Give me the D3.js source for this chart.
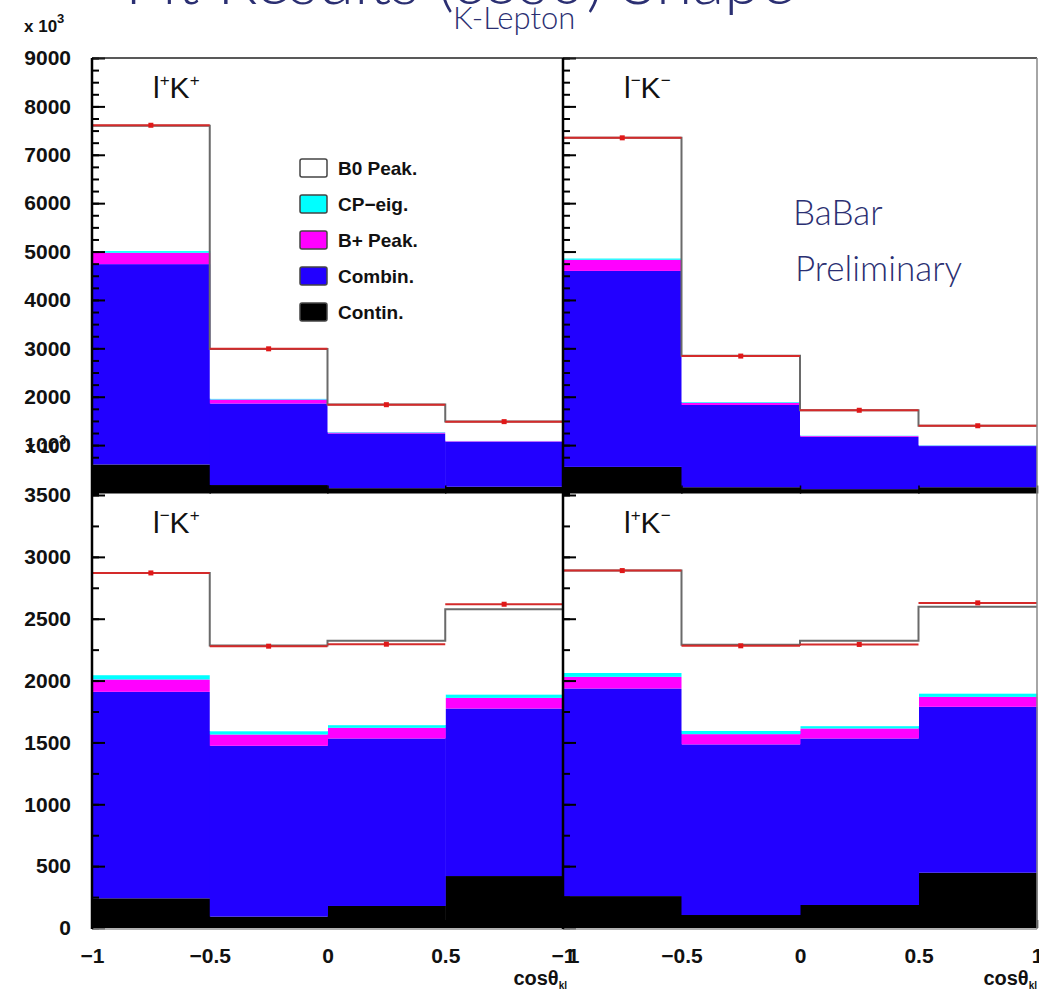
<!DOCTYPE html>
<html>
<head>
<meta charset="utf-8">
<script src="https://cdn.jsdelivr.net/npm/d3@7/dist/d3.min.js"></script>
<style>
  body { margin: 0; background: #fff; }
  svg text { font-family: "Liberation Sans", Arial, sans-serif; }
  .hand { font-family: "Lato", "Open Sans", sans-serif; font-weight: 300; fill: #2b2f72; }
</style>
</head>
<body>
<svg id="chart" width="1039" height="991"></svg>
<script>
// bin edges of cos(theta_Kl)
const binEdges = [-1, -0.5, 0, 0.5, 1];
const xTicks = [-1, -0.5, 0, 0.5, 1];
const topTicks = [1000, 2000, 3000, 4000, 5000, 6000, 7000, 8000, 9000];
const botTicks = [0, 500, 1000, 1500, 2000, 2500, 3000, 3500];

const layerKeys = ['contin', 'combin', 'bplus', 'cp', 'b0'];
const legendLabels = ['B0 Peak.', 'CP\u2212eig.', 'B+ Peak.', 'Combin.', 'Contin.'];
const legendKeys = ['b0', 'cp', 'bplus', 'combin', 'contin'];
const layerColors = { contin: '#000000', combin: '#2200ff', bplus: '#ff00ff', cp: '#00ffff', b0: '#ffffff' };

// l+K+
const ppContin = [600, 175, 110, 140];
const ppCombin = [4140, 1685, 1130, 925];
const ppBplus  = [235, 82, 20, 15];
const ppCp     = [35, 18, 10, 10];
const ppB0     = [2590, 1025, 570, 400];
const ppData   = [7610, 2990, 1835, 1485];

// l-K-
const mmContin = [550, 130, 90, 130];
const mmCombin = [4050, 1700, 1085, 850];
const mmBplus  = [230, 45, 15, 10];
const mmCp     = [30, 15, 10, 10];
const mmB0     = [2490, 955, 522, 402];
const mmData   = [7350, 2840, 1720, 1400];

// l-K+
const mpContin = [240, 92, 178, 420];
const mpCombin = [1669, 1381, 1354, 1354];
const mpBplus  = [100, 91, 86, 86];
const mpCp     = [35, 27, 22, 28];
const mpB0     = [826, 692, 681, 689];
const mpData   = [2870, 2278, 2294, 2617];

// l+K-
const pmContin = [258, 105, 186, 447];
const pmCombin = [1678, 1379, 1346, 1341];
const pmBplus  = [94, 83, 81, 80];
const pmCp     = [32, 27, 19, 28];
const pmB0     = [827, 695, 689, 700];
const pmData   = [2889, 2281, 2292, 2628];

const svg = d3.select('#chart');

const xL = d3.scaleLinear().domain([-1, 1]).range([92, 563]);
const xR = d3.scaleLinear().domain([-1, 1]).range([563, 1037]);
const yTop = d3.scaleLinear().domain([0, 9000]).range([493.5, 58]);
const yBot = d3.scaleLinear().domain([0, 3500]).range([928, 495]);

const panels = [
  { lab: ['l', '+', 'K', '+'], x: xL, y: yTop, top: true,  left: true,
    v: { contin: ppContin, combin: ppCombin, bplus: ppBplus, cp: ppCp, b0: ppB0 }, data: ppData },
  { lab: ['l', '\u2212', 'K', '\u2212'], x: xR, y: yTop, top: true,  left: false,
    v: { contin: mmContin, combin: mmCombin, bplus: mmBplus, cp: mmCp, b0: mmB0 }, data: mmData },
  { lab: ['l', '\u2212', 'K', '+'], x: xL, y: yBot, top: false, left: true,
    v: { contin: mpContin, combin: mpCombin, bplus: mpBplus, cp: mpCp, b0: mpB0 }, data: mpData },
  { lab: ['l', '+', 'K', '\u2212'], x: xR, y: yBot, top: false, left: false,
    v: { contin: pmContin, combin: pmCombin, bplus: pmBplus, cp: pmCp, b0: pmB0 }, data: pmData }
];

// clip for top panels (the lower panels sit on top of their zero line)
svg.append('clipPath').attr('id', 'clipTop')
  .append('rect').attr('x', 92).attr('y', 58).attr('width', 945).attr('height', 437);

panels.forEach(p => {
  const rows = binEdges.slice(0, -1).map((x0, i) => {
    const r = { x0, x1: binEdges[i + 1] };
    layerKeys.forEach(k => { r[k] = p.v[k][i]; });
    return r;
  });
  const series = d3.stack().keys(layerKeys)(rows);

  const g = svg.append('g');
  if (p.top) g.attr('clip-path', 'url(#clipTop)');

  g.selectAll('.layer')
    .data(series)
    .enter().append('g')
    .attr('fill', s => layerColors[s.key])
    .selectAll('rect')
    .data(s => s)
    .enter().append('rect')
    .attr('x', d => p.x(d.data.x0))
    .attr('width', d => p.x(d.data.x1) - p.x(d.data.x0) + 0.5)
    .attr('y', d => p.y(d[1]))
    .attr('height', d => p.y(d[0]) - p.y(d[1]));

  // fit total as step outline
  const tot = series[series.length - 1];
  const pts = tot.map(d => [d.data.x0, d[1]]);
  pts.push([1, tot[tot.length - 1][1]]);
  g.append('path')
    .attr('d', d3.line().curve(d3.curveStepAfter).x(d => p.x(d[0])).y(d => p.y(d[1]))(pts))
    .attr('fill', 'none')
    .attr('stroke', '#6a6a6a')
    .attr('stroke-width', 2);

  // data: red horizontal bars + markers
  const dat = rows.map((r, i) => ({ x0: r.x0, x1: r.x1, v: p.data[i] }));
  g.selectAll('.dline')
    .data(dat).enter().append('line')
    .attr('x1', d => p.x(d.x0)).attr('x2', d => p.x(d.x1))
    .attr('y1', d => p.y(d.v)).attr('y2', d => p.y(d.v))
    .attr('stroke', '#d42a2a').attr('stroke-width', 2);
  g.selectAll('.dot')
    .data(dat).enter().append('rect')
    .attr('x', d => p.x((d.x0 + d.x1) / 2) - 2.5)
    .attr('y', d => p.y(d.v) - 2.5)
    .attr('width', 5).attr('height', 5)
    .attr('fill', '#e01818');

  // y ticks on the panel's left edge, pointing inwards
  const ticks = p.top ? topTicks : botTicks;
  const minor = d3.range(0, d3.max(ticks) + 1, 250);
  const x0 = p.x(-1);
  const ax = svg.append('g').attr('transform', `translate(${x0},0)`);
  ax.call(d3.axisLeft(p.y).tickValues(minor).tickSizeInner(-7).tickSizeOuter(0).tickFormat(''));
  const axM = svg.append('g').attr('transform', `translate(${x0},0)`);
  axM.call(d3.axisLeft(p.y).tickValues(ticks).tickSizeInner(-13).tickSizeOuter(0).tickPadding(21)
    .tickFormat(p.left ? d3.format('d') : ''));
  [ax, axM].forEach(a => {
    a.select('.domain').remove();
    a.selectAll('line').attr('stroke', '#000').attr('stroke-width', 2);
    a.selectAll('text').attr('font-size', 21).attr('font-weight', 'bold').attr('fill', '#111');
  });

  // x ticks at the bottom edge
  const xb = svg.append('g').attr('transform', `translate(0,${p.y(0)})`);
  xb.call(d3.axisBottom(p.x).tickValues(xTicks).tickSizeInner(-8).tickSizeOuter(0).tickPadding(20)
    .tickFormat(p.top ? '' : d3.format('')));
  xb.select('.domain').remove();
  xb.selectAll('line').attr('stroke', '#000').attr('stroke-width', 1.5);
  xb.selectAll('text').attr('font-size', 21).attr('font-weight', 'bold').attr('fill', '#111');
  if (!p.top && p.left) xb.selectAll('text').filter(d => d === 1).attr('dx', 10);

  // panel label
  const t = svg.append('text')
    .attr('x', x0 + 61)
    .attr('y', p.y.range()[1] + (p.top ? 40 : 38))
    .attr('font-size', 30)
    .attr('fill', '#111');
  p.lab.forEach((s, i) => {
    const sp = t.append('tspan').text(s);
    if (i % 2 === 1) sp.attr('font-size', 17).attr('dy', -12);
    else if (i > 0) sp.attr('dy', 12);
  });

  // cos theta_Kl title
  if (!p.top) {
    const ct = svg.append('text')
      .attr('x', p.x(1) + (p.left ? 4 : 0))
      .attr('y', 985)
      .attr('text-anchor', 'end')
      .attr('font-size', 20)
      .attr('font-weight', 'bold')
      .attr('fill', '#111');
    ct.append('tspan').text('cos\u03b8');
    ct.append('tspan').text('kl').attr('font-size', 10).attr('dy', 4);
  }
});

// frame lines
svg.append('line').attr('x1', 92).attr('x2', 1037).attr('y1', 58).attr('y2', 58)
  .attr('stroke', '#222').attr('stroke-width', 1.5);
svg.append('line').attr('x1', 92).attr('x2', 1037).attr('y1', 929).attr('y2', 929)
  .attr('stroke', '#999').attr('stroke-width', 1.5);
[[92, '#000', 2.5], [563, '#000', 2.5], [1037, '#888', 1.5]].forEach(([xx, c, w]) => {
  svg.append('line').attr('x1', xx).attr('x2', xx).attr('y1', 58).attr('y2', 929)
    .attr('stroke', c).attr('stroke-width', w);
});

// x 10^3 multipliers
function mult(xx, yy) {
  const t = svg.append('text').attr('x', xx).attr('y', yy)
    .attr('font-size', 17).attr('font-weight', 'bold').attr('fill', '#111');
  t.append('tspan').text('x 10');
  t.append('tspan').text('3').attr('font-size', 13).attr('dy', -9);
}
mult(24, 32);
mult(26, yBot(3500) - 42);

// legend
const leg = svg.append('g').selectAll('g')
  .data(legendKeys).enter().append('g')
  .attr('transform', (d, i) => `translate(300,${159 + i * 36})`);
leg.append('rect')
  .attr('width', 27).attr('height', 18).attr('rx', 2)
  .attr('fill', d => layerColors[d])
  .attr('stroke', '#444').attr('stroke-width', 1.5);
leg.append('text')
  .attr('x', 38).attr('y', 16)
  .attr('font-size', 19).attr('font-weight', 'bold').attr('fill', '#111')
  .text((d, i) => legendLabels[i]);

// handwritten annotations
svg.append('text').attr('class', 'hand').attr('x', 460).attr('y', 4)
  .attr('text-anchor', 'middle').attr('font-size', 66).text('Fit Results (cos\u03b8) Shape');
svg.append('text').attr('class', 'hand').attr('x', 453).attr('y', 29)
  .attr('font-size', 31).text('K-Lepton');
svg.append('text').attr('class', 'hand').attr('x', 793).attr('y', 225)
  .attr('font-size', 35).text('BaBar');
svg.append('text').attr('class', 'hand').attr('x', 795).attr('y', 281)
  .attr('font-size', 35).text('Preliminary');
</script>
</body>
</html>
